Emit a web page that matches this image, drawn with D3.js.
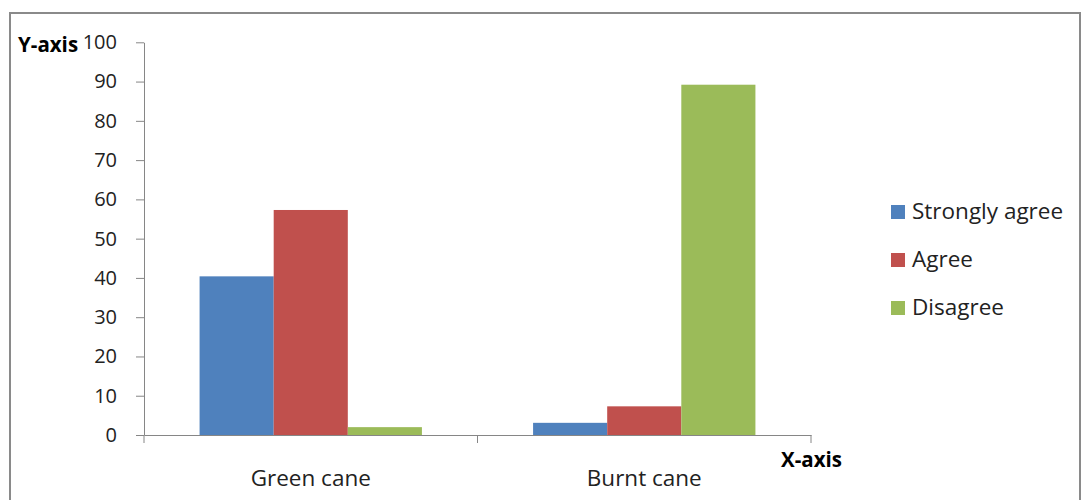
<!DOCTYPE html>
<html>
<head>
<meta charset="utf-8">
<script src="https://cdn.jsdelivr.net/npm/d3@7"></script>
<style>
  html, body { margin: 0; padding: 0; background: #fff; }
  svg { display: block; }
</style>
</head>
<body>
<svg id="chart" width="1081" height="500"></svg>
<script>
// Survey responses (%) for green and burnt cane
const categories = ["Green cane", "Burnt cane"];
const seriesNames = ["Strongly agree", "Agree", "Disagree"];
const stronglyAgree = [40.4, 3.1];
const agree = [57.3, 7.3];
const disagree = [2.0, 89.2];
const yTicks = [0, 10, 20, 30, 40, 50, 60, 70, 80, 90, 100];
const colors = ["#4F81BD", "#C0504D", "#9BBB59"];

const seriesValues = [stronglyAgree, agree, disagree];
const svg = d3.select("#chart");
const fontFamily = "'Open Sans', 'Noto Sans', sans-serif";
const tickFont = 20;
const wordFont = 22.5;

// outer frame
svg.append("rect")
  .attr("x", 10).attr("y", 13)
  .attr("width", 1070).attr("height", 500)
  .attr("fill", "none").attr("stroke", "#8a8a8a").attr("stroke-width", 2);

const plot = { left: 144, right: 811, top: 42.3, bottom: 435 };

const x0 = d3.scaleBand().domain(categories)
  .range([plot.left, plot.right]).paddingInner(0).paddingOuter(0);
const x1 = d3.scaleBand().domain(seriesNames)
  .range([0, x0.bandwidth()]).paddingInner(0).paddingOuter(0.75);
const y = d3.scaleLinear().domain([0, 100]).range([plot.bottom, plot.top]);

// bars
const groups = svg.append("g").selectAll("g")
  .data(categories).join("g")
  .attr("transform", d => `translate(${x0(d)},0)`);

groups.selectAll("rect")
  .data((c, ci) => seriesNames.map((s, si) => ({ s, v: seriesValues[si][ci], color: colors[si] })))
  .join("rect")
  .attr("x", d => x1(d.s))
  .attr("width", x1.bandwidth())
  .attr("y", d => y(d.v))
  .attr("height", d => y(0) - y(d.v))
  .attr("fill", d => d.color);

// y axis
const yAxis = svg.append("g")
  .attr("transform", `translate(${plot.left},0)`)
  .call(d3.axisLeft(y).tickValues(yTicks).tickSize(8).tickPadding(19).tickSizeOuter(0));
yAxis.select(".domain").attr("stroke", "#868686");
yAxis.selectAll(".tick line").attr("stroke", "#868686");
yAxis.selectAll(".tick text")
  .attr("font-family", fontFamily).attr("font-size", tickFont)
  .attr("fill", "#222");

// x axis
const xAxis = svg.append("g")
  .attr("transform", `translate(0,${plot.bottom})`)
  .call(d3.axisBottom(x0).tickSize(0).tickPadding(35).tickSizeOuter(0));
xAxis.select(".domain").attr("stroke", "#868686");
xAxis.selectAll(".tick text")
  .attr("font-family", fontFamily).attr("font-size", wordFont)
  .attr("fill", "#222");
// category dividers
const dividers = [plot.left, plot.left + x0.bandwidth(), plot.right];
xAxis.selectAll(".divider").data(dividers).join("line")
  .attr("class", "divider")
  .attr("x1", d => d).attr("x2", d => d)
  .attr("y1", 0).attr("y2", 8)
  .attr("stroke", "#868686");

// axis titles
svg.append("text")
  .attr("x", 18).attr("y", 52)
  .attr("font-family", fontFamily).attr("font-size", 20.5).attr("font-weight", "bold")
  .attr("fill", "#000")
  .text("Y-axis");
svg.append("text")
  .attr("x", 781).attr("y", 467)
  .attr("font-family", fontFamily).attr("font-size", 20.5).attr("font-weight", "bold")
  .attr("fill", "#000")
  .text("X-axis");

// legend
const legend = svg.append("g").attr("transform", "translate(891,205)");
const items = legend.selectAll("g").data(seriesNames).join("g")
  .attr("transform", (d, i) => `translate(0,${i * 48})`);
items.append("rect")
  .attr("width", 14).attr("height", 14)
  .attr("fill", (d, i) => colors[i]);
items.append("text")
  .attr("x", 21).attr("y", 14)
  .attr("font-family", fontFamily).attr("font-size", wordFont)
  .attr("fill", "#222")
  .text(d => d);
</script>
</body>
</html>
